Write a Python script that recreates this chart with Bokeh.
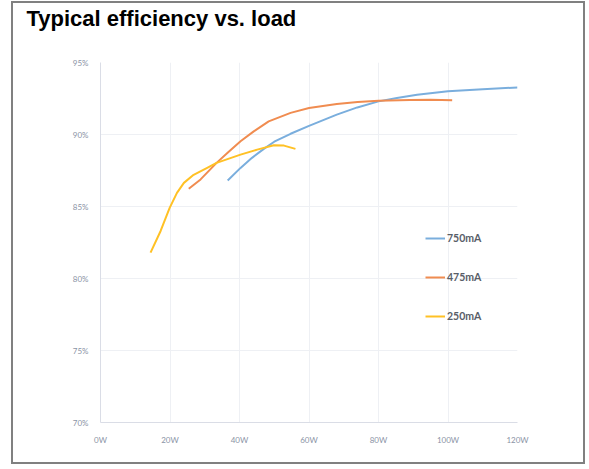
from bokeh.plotting import figure
from bokeh.embed import file_html
from bokeh.resources import INLINE
from bokeh.models import Legend, LegendItem, FixedTicker, CustomJSTickFormatter, Title

title_text = "Typical efficiency vs. load"
x_ticks = [0, 20, 40, 60, 80, 100, 120]
y_ticks = [70, 75, 80, 85, 90, 95]

load_750 = [36.6, 40.3, 43.6, 47, 50, 54.7, 60, 68, 73.9, 80, 85.3, 91.1, 100, 110, 120]
eff_750 = [86.8, 87.68, 88.38, 89.0, 89.5, 90.05, 90.6, 91.38, 91.88, 92.3, 92.53, 92.76, 93.0, 93.15, 93.27]

load_475 = [25.4, 28.8, 33.4, 36.5, 40.3, 44.1, 48.4, 54.7, 60, 68, 74, 80, 89, 95, 101.2]
eff_475 = [86.23, 86.88, 88.03, 88.72, 89.53, 90.22, 90.91, 91.5, 91.84, 92.12, 92.26, 92.35, 92.4, 92.42, 92.38]

load_250 = [14.4, 17.3, 19.9, 22.0, 24.0, 26.8, 30.7, 33.4, 40.3, 45.1, 49.9, 52.8, 56.1]
eff_250 = [81.8, 83.3, 84.9, 85.95, 86.64, 87.2, 87.68, 88.03, 88.6, 88.95, 89.25, 89.23, 89.0]

series_names = ["750mA", "475mA", "250mA"]
colors = ["#7aaedd", "#f08c50", "#ffc125"]

p = figure(width=574, height=463, output_backend="svg", toolbar_location=None,
           x_range=(0, 120), y_range=(70, 95), title=None,
           min_border_left=87, min_border_right=70, min_border_top=58, min_border_bottom=44)
p.styles = {"border": "2px solid #808080", "margin-left": "11px", "margin-top": "1px"}
p.outline_line_color = None
p.background_fill_color = "white"
p.border_fill_color = "white"

spacer = Title(text=" ", text_font_size="26px", standoff=0)
p.add_layout(spacer, "above")
main_title = Title(text=title_text, text_font="Liberation Sans", text_font_size="22px",
                   text_font_style="bold", text_color="black", align="left", offset=-74, standoff=0)
p.add_layout(main_title, "above")

renderers = []
for xs, ys, c in [(load_750, eff_750, colors[0]), (load_475, eff_475, colors[1]), (load_250, eff_250, colors[2])]:
    r = p.line(xs, ys, line_color=c, line_width=2, line_join="round")
    renderers.append(r)

for ax in (p.xaxis[0], p.yaxis[0]):
    ax.axis_line_color = "#dadde6"
    ax.major_tick_line_color = None
    ax.minor_tick_line_color = None
    ax.major_label_text_font = "Lato"
    ax.major_label_text_font_size = "8px"
    ax.major_label_text_color = "#8a93a5"
    ax.major_label_standoff = 6

p.xaxis.ticker = FixedTicker(ticks=x_ticks)
p.yaxis.ticker = FixedTicker(ticks=y_ticks)
p.xaxis.formatter = CustomJSTickFormatter(code="return tick + 'W';")
p.yaxis.formatter = CustomJSTickFormatter(code="return tick + '%';")

p.xgrid.grid_line_color = "#eef0f4"
p.ygrid.grid_line_color = "#eef0f4"

legend = Legend(items=[LegendItem(label=n, renderers=[r]) for n, r in zip(series_names, renderers)],
                location=(325, 96), orientation="vertical")
legend.background_fill_alpha = 0
legend.border_line_color = None
legend.padding = 0
legend.margin = 0
legend.glyph_width = 20
legend.glyph_height = 20
legend.label_height = 20
legend.spacing = 19
legend.label_standoff = 2
legend.label_text_font = "Lato"
legend.label_text_font_size = "10.5px"
legend.label_text_font_style = "bold"
legend.label_text_color = "#595e68"
p.add_layout(legend, "center")

open("out.html", "w").write(file_html(p, INLINE))
